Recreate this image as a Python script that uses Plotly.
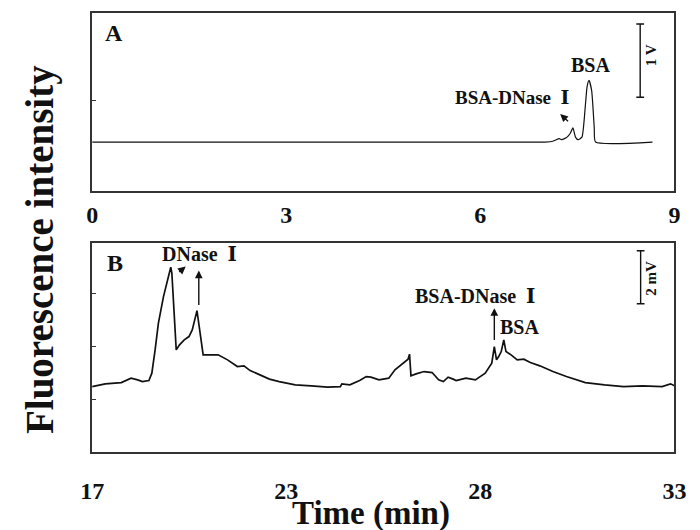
import numpy as np
import plotly.graph_objects as go

# ---------------- data ----------------
# Panel A: time (min) and intensity (V)
time_a = [0.0, 7.00, 7.12, 7.22, 7.26, 7.34, 7.39, 7.43, 7.47, 7.51, 7.57,
          7.62, 7.65, 7.68, 7.72, 7.76, 7.78, 8.66]
sig_a = [0.0, 0.0, 0.01, 0.046, 0.032, 0.067, 0.12, 0.193, 0.067, 0.032, 0.067,
         0.47, 0.76, 0.84, 0.70, 0.20, 0.0, 0.0]

# Panel B: time (min) and intensity (mV)
time_b = [17.0, 17.36, 17.80, 18.07, 18.25, 18.38, 18.56, 18.64, 18.73, 18.82,
          18.96, 19.09, 19.16, 19.19, 19.25, 19.31, 19.40, 19.53, 19.66, 19.75,
          19.88, 19.96, 20.05, 20.14, 20.46, 20.72, 20.90, 20.99, 21.17, 21.34,
          21.61, 21.87, 22.14, 22.58, 23.02, 23.47, 23.82, 23.86, 24.08, 24.35,
          24.53, 24.66, 24.88, 25.15, 25.32, 25.50, 25.68, 25.72, 25.76, 25.90,
          26.12, 26.34, 26.52, 26.65, 26.78, 26.92, 27.00, 27.27, 27.53, 27.80,
          27.98, 28.05, 28.11, 28.17, 28.24, 28.31, 28.37, 28.51, 28.68, 28.86,
          29.04, 29.30, 29.66, 30.03, 30.55, 31.08, 31.60, 32.12, 32.66, 32.89,
          33.0]
sig_b = [0.475, 0.577, 0.626, 0.792, 0.728, 0.664, 0.702, 0.981, 1.860, 2.868,
         3.872, 4.626, 4.981, 4.755, 3.494, 1.860, 2.049, 2.238, 2.362, 2.615,
         3.343, 2.615, 1.672, 1.672, 1.672, 1.483, 1.294, 1.230, 1.257, 1.079,
         0.917, 0.755, 0.664, 0.540, 0.502, 0.453, 0.475, 0.577, 0.540, 0.702,
         0.853, 0.830, 0.728, 0.792, 1.106, 1.294, 1.509, 1.698, 0.879, 0.955,
         1.042, 1.004, 0.728, 0.664, 0.830, 0.755, 0.702, 0.792, 0.728, 0.981,
         1.358, 1.985, 1.483, 1.608, 1.796, 2.238, 1.796, 1.672, 1.483, 1.509,
         1.381, 1.257, 1.042, 0.853, 0.626, 0.540, 0.475, 0.502, 0.475, 0.577,
         0.502]

ticks_a_vals = [0, 3, 6, 9]
ticks_a_text = ["0", "3", "6", "9"]
ticks_b_text = ["17", "23", "28", "33"]
scale_a = 1.0   # 1 V
scale_b = 2.0   # 2 mV

FONT = "Liberation Serif, DejaVu Serif, serif"
INK = "#111111"
BOX = "#333333"

fig = go.Figure()
fig.add_trace(go.Scatter(x=time_a, y=sig_a, mode="lines", xaxis="x", yaxis="y",
                         line=dict(color=INK, width=1.2, shape="spline", smoothing=0.5),
                         showlegend=False, hoverinfo="skip"))
fig.add_trace(go.Scatter(x=time_b, y=sig_b, mode="lines", xaxis="x2", yaxis="y2",
                         line=dict(color=INK, width=1.7),
                         showlegend=False, hoverinfo="skip"))

xdom = [83 / 700, 686 / 700]
ticks_b_vals = list(np.linspace(17, 33, len(ticks_b_text)))

axis_common = dict(showline=True, mirror=True, linecolor=BOX, linewidth=1.6,
                   showgrid=False, zeroline=False)

fig.update_layout(
    width=700, height=530,
    margin=dict(l=0, r=0, t=0, b=0),
    paper_bgcolor="white", plot_bgcolor="white",
    font=dict(family=FONT, color=INK),
    xaxis=dict(domain=xdom, range=[0, 9], anchor="y",
               tickvals=ticks_a_vals, ticktext=["<b>%s</b>" % t for t in ticks_a_text],
               ticks="", tickfont=dict(size=24, family=FONT, color=INK),
               ticklabelstandoff=1, **axis_common),
    yaxis=dict(domain=[1 - 191 / 530, 1 - 12.7 / 530], range=[-0.668, 1.764], anchor="x",
               tickvals=[0.56], ticks="inside", ticklen=4, tickcolor=BOX,
               showticklabels=False, **axis_common),
    xaxis2=dict(domain=xdom, range=[17, 33], anchor="y2",
                tickvals=ticks_b_vals, ticktext=["<b>%s</b>" % t for t in ticks_b_text],
                ticks="", tickfont=dict(size=24, family=FONT, color=INK),
                ticklabelstandoff=17, **axis_common),
    yaxis2=dict(domain=[1 - 451.7 / 530, 1 - 243.3 / 530], range=[-1.984, 5.883], anchor="x2",
                tickvals=[0, 2, 4], ticks="inside", ticklen=4, tickcolor=BOX,
                showticklabels=False, **axis_common),
)

# scale bars
def scale_bar(xref, yref, x, y0, length, half):
    fig.add_shape(type="line", xref=xref, yref=yref, x0=x, x1=x, y0=y0, y1=y0 + length,
                  line=dict(color=INK, width=1.4))
    for yy in (y0, y0 + length):
        fig.add_shape(type="line", xref=xref, yref=yref, x0=x - half, x1=x + half,
                      y0=yy, y1=yy, line=dict(color=INK, width=1.4))

scale_bar("x", "y", 8.47, 0.61, scale_a, 0.06)
scale_bar("x2", "y2", 32.07, 3.60, scale_b, 0.106)

def label(text, x, y, xref, yref, size, angle=0):
    fig.add_annotation(text="<b>%s</b>" % text, x=x, y=y, xref=xref, yref=yref,
                       showarrow=False, textangle=angle, xanchor="center", yanchor="middle",
                       font=dict(family=FONT, size=size, color=INK))

def arrow(xh, yh, xt, yt, xref, yref):
    fig.add_annotation(text="", x=xh, y=yh, ax=xt, ay=yt, xref=xref, yref=yref,
                       axref=xref, ayref=yref, showarrow=True, arrowhead=2,
                       arrowsize=1.1, arrowwidth=1.4, arrowcolor=INK, standoff=0,
                       startstandoff=0)

# Panel A labels
label("A", 0.34, 1.483, "x", "y", 24)
label("BSA", 7.70, 1.05, "x", "y", 20)
label("BSA-DNase  Ⅰ", 6.50, 0.607, "x", "y", 19)
arrow(7.234, 0.382, 7.378, 0.263, "x", "y")
label("1 V", 8.64, 1.187, "x", "y", 15, -90)

# Panel B labels
label("B", 17.63, 5.155, "x2", "y2", 24)
label("DNase  Ⅰ", 19.95, 5.483, "x2", "y2", 20)
arrow(19.57, 5.004, 19.35, 4.755, "x2", "y2")
arrow(19.93, 4.853, 19.93, 3.494, "x2", "y2")
label("BSA-DNase  Ⅰ", 27.53, 3.898, "x2", "y2", 20)
arrow(28.05, 3.434, 28.05, 2.174, "x2", "y2")
label("BSA", 28.75, 2.728, "x2", "y2", 20)
label("2 mV", 32.35, 4.577, "x2", "y2", 15, -90)

# axis titles
fig.add_annotation(text="<b>Time (min)</b>", x=372 / 700, y=1 - 513 / 530,
                   xref="paper", yref="paper", showarrow=False,
                   xanchor="center", yanchor="middle",
                   font=dict(family=FONT, size=33, color=INK))
fig.add_annotation(text="<b>Fluorescence intensity</b>", x=29 / 700, y=1 - 250 / 530,
                   xref="paper", yref="paper", showarrow=False, textangle=-90,
                   xanchor="center", yanchor="middle",
                   font=dict(family=FONT, size=39, color=INK))

fig.write_html("out.html")
